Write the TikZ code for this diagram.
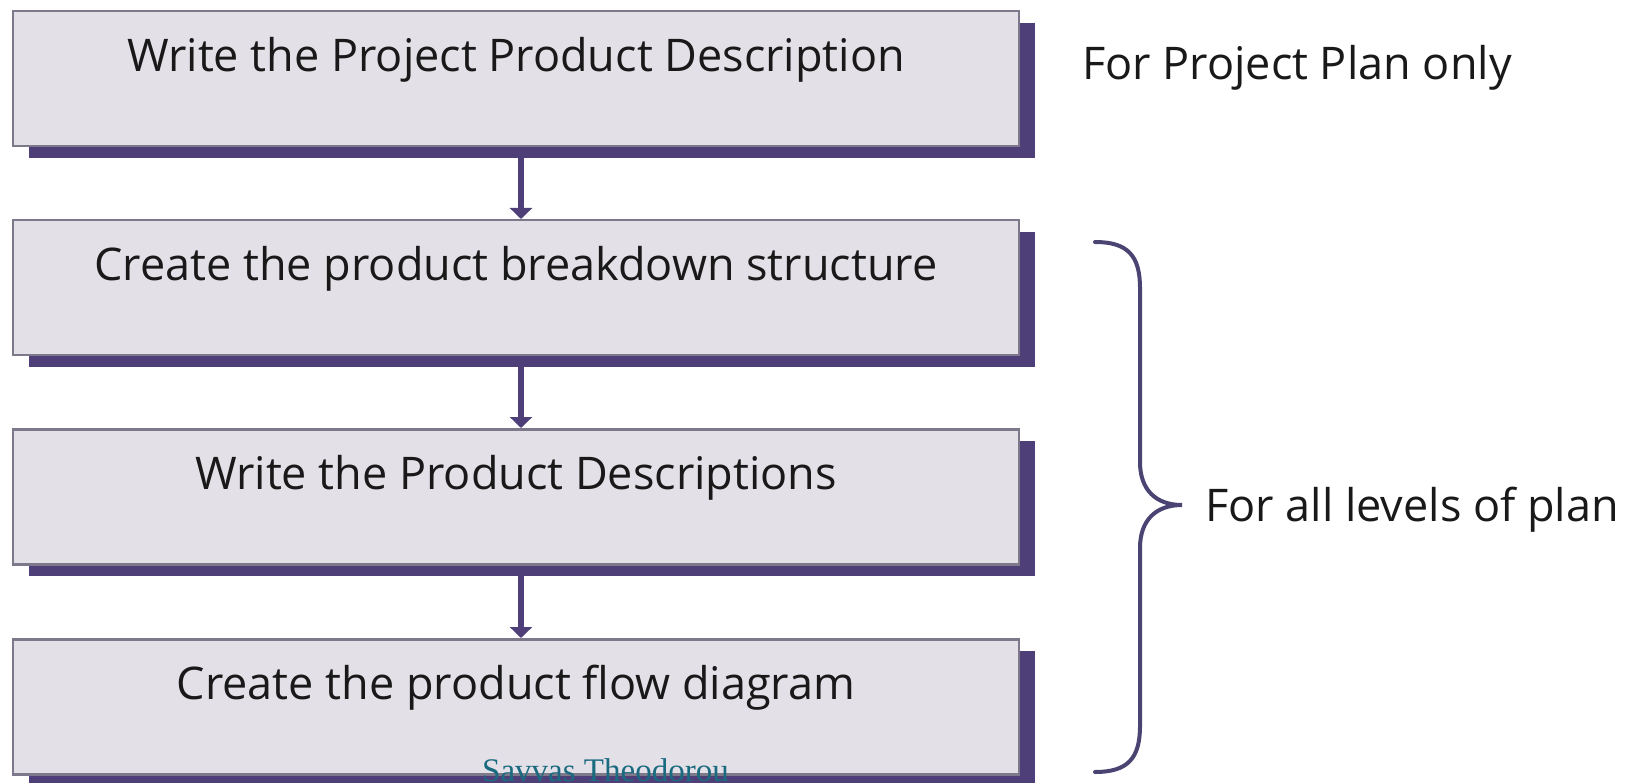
\documentclass[tikz,border=0pt]{standalone}
\usepackage{fontspec}
\setmainfont{Open Sans}
\newfontfamily\signfont{Liberation Serif}
\usepackage{xcolor}
\usetikzlibrary{arrows.meta,calc,shadows,positioning}
\definecolor{boxfill}{HTML}{E4E0E8}
\definecolor{boxedge}{HTML}{7D788A}
\definecolor{shadowpurple}{HTML}{4E3F78}
\definecolor{bracepurple}{HTML}{4A4472}
\definecolor{signteal}{HTML}{1B6B80}
\tikzset{
  stepbox/.style={draw=boxedge,line width=2.5pt,fill=boxfill,minimum width=1006pt,
    inner ysep=0pt,text height=60pt,text depth=75pt,anchor=north,
    font=\fontsize{45}{52}\selectfont,text=black!90,
    drop shadow={shadow xshift=16pt,shadow yshift=-12pt,fill=shadowpurple,opacity=1}},
  flowarrow/.style={shadowpurple,line width=6pt,-{Triangle[width=22pt,length=11pt]}},
  sidelabel/.style={anchor=base west,inner sep=0pt,font=\fontsize{45}{52}\selectfont,text=black!90}
}
\begin{document}
\begin{tikzpicture}[x=1pt,y=-1pt]
  \path[use as bounding box] (0,0) rectangle (1643,783);
  \clip (0,0) rectangle (1643,783);
  \fill[white] (0,0) rectangle (1643,783);
  % the four steps
  \node[stepbox] (projdesc) at (516,10) {Write the Project Product Description};
  \node[stepbox] (pbs) at (516,219) {Create the product breakdown structure};
  \node[stepbox] (proddesc) at (516,428) {Write the Product Descriptions};
  \node[stepbox] (pfd) at (516,638) {Create the product flow diagram};
  \foreach \a/\b in {projdesc/pbs,pbs/proddesc,proddesc/pfd}
    \draw[flowarrow] ([xshift=5pt]\a.south) -- ([xshift=5pt]\b.north);
  % notes on the right
  \node[sidelabel] (planonly) at (1082,80) {For Project Plan only};
  \draw[bracepurple,line width=4pt,line cap=round]
    (1095,242) .. controls (1128,242) and (1140,256) .. (1140,288) -- (1140,462)
    .. controls (1140,490) and (1156,505) .. (1182,505)
    .. controls (1156,505) and (1140,520) .. (1140,548) -- (1140,726)
    .. controls (1140,758) and (1128,772) .. (1095,772);
  \node[sidelabel] (alllevels) at (1205,521) {For all levels of plan};
  \node[anchor=base west,inner sep=0pt,text=signteal,font=\signfont\fontsize{33}{40}\selectfont] (author) at (482,781) {Savvas Theodorou};
\end{tikzpicture}
\end{document}
